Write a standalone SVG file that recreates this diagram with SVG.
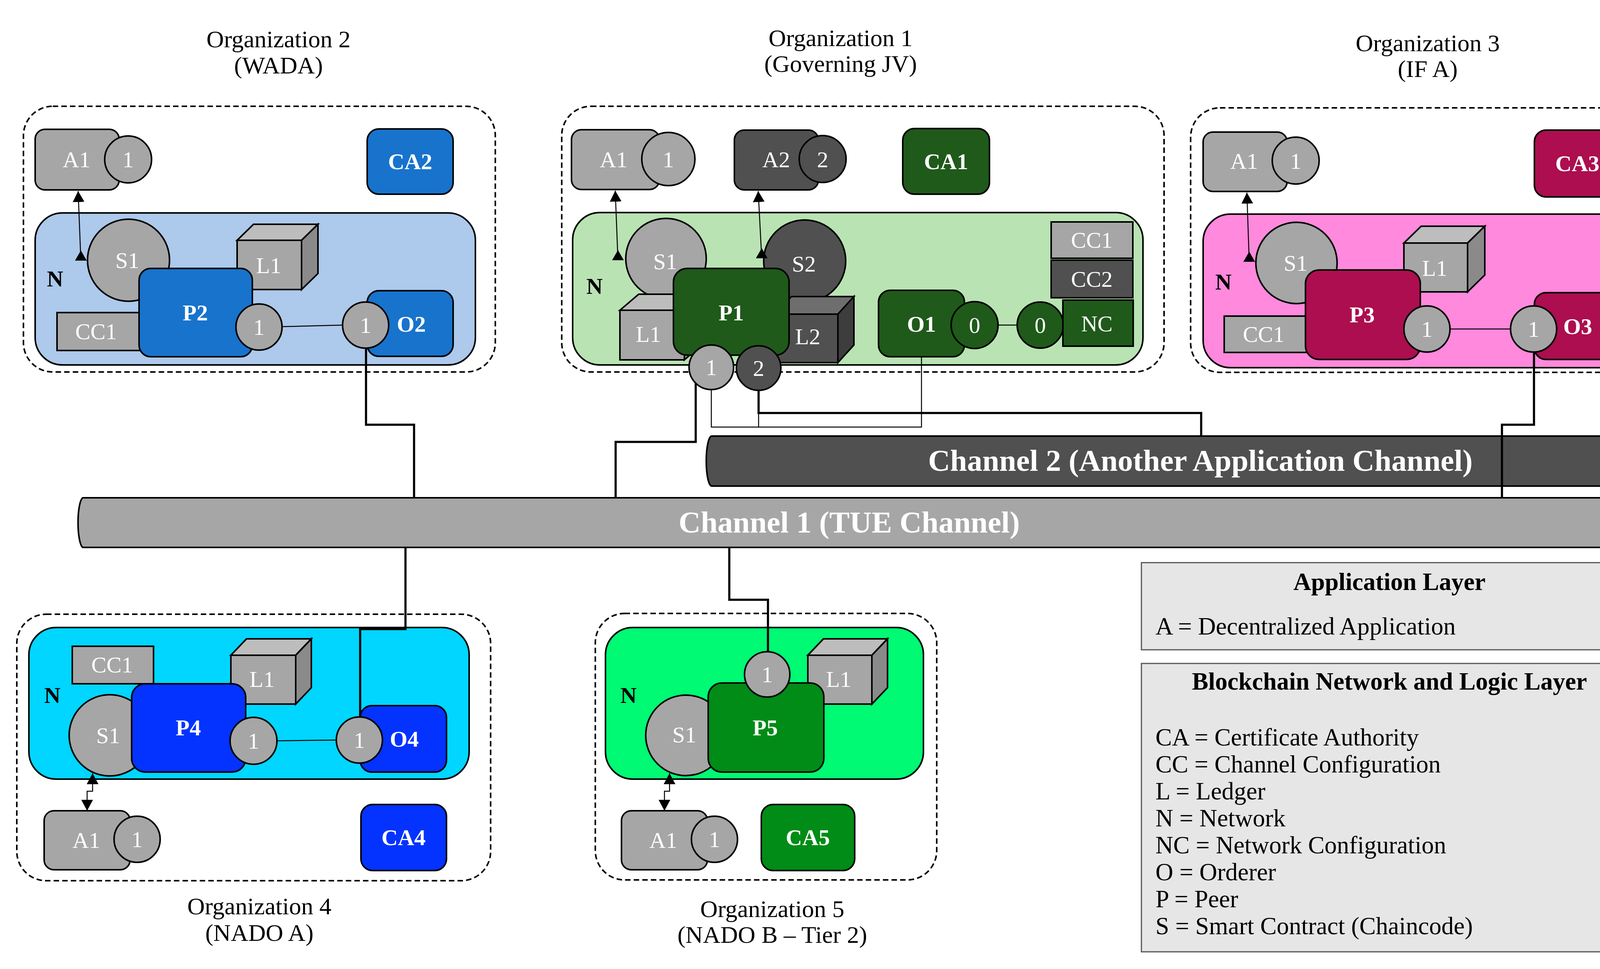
<svg xmlns="http://www.w3.org/2000/svg" width="4291" height="2480" viewBox="0 0 4291 2480">
<style>
.dash{fill:none;stroke:#000;stroke-width:4;stroke-dasharray:14 8}
.o{stroke:#000;stroke-width:4}
.lg{fill:#a6a6a6}
.dg{fill:#505050}
.lgt{fill:#bdbdbd}.lgs{fill:#8a8a8a}
.dgt{fill:#6e6e6e}.dgs{fill:#3d3d3d}
.t{font-family:"Liberation Serif","Times New Roman",serif;font-size:58px;fill:#fff;text-anchor:middle}
.b{font-weight:bold}
.k{fill:#000}
.title{font-family:"Liberation Serif","Times New Roman",serif;font-size:62px;fill:#000;text-anchor:middle}
.leg{font-family:"Liberation Serif","Times New Roman",serif;font-size:63px;fill:#000}
.ch{font-family:"Liberation Serif","Times New Roman",serif;font-size:78px;font-weight:bold;fill:#fff;text-anchor:middle}
.thick{fill:none;stroke:#000;stroke-width:5.5}
.thin{fill:none;stroke:#000;stroke-width:2.5}
.arr{fill:none;stroke:#000;stroke-width:2.5;marker-start:url(#ah);marker-end:url(#ah)}
.arru{fill:none;stroke:#000;stroke-width:2.5;marker-start:url(#ah);marker-end:url(#ahu)}
.c2{fill:#1873cc}.c1{fill:#1f5a1a}.c3{fill:#ac0e4f}.c4{fill:#0433ff}.c5{fill:#008c16}
</style>
<defs>
<marker id="ah" viewBox="0 0 10 10" refX="10" refY="5" markerUnits="userSpaceOnUse" markerWidth="28" markerHeight="30" preserveAspectRatio="none" orient="auto-start-reverse">
<path d="M0,0 L10,5 L0,10 z" fill="#000"/>
</marker>
<marker id="ahu" viewBox="0 0 10 10" refX="0" refY="5" markerUnits="userSpaceOnUse" markerWidth="26" markerHeight="30" preserveAspectRatio="none" orient="-90">
<path d="M0,0 L10,5 L0,10 z" fill="#000"/>
</marker>
</defs>
<rect width="4291" height="2480" fill="#fff"/>

<g id="titles">
<text class="title" x="713" y="121">Organization 2</text>
<text class="title" x="713" y="188">(WADA)</text>
<text class="title" x="2152" y="118">Organization 1</text>
<text class="title" x="2152" y="184">(Governing JV)</text>
<text class="title" x="3655" y="131">Organization 3</text>
<text class="title" x="3655" y="197">(IF A)</text>
<text class="title" x="664" y="2340">Organization 4</text>
<text class="title" x="664" y="2408">(NADO A)</text>
<text class="title" x="1977" y="2347">Organization 5</text>
<text class="title" x="1977" y="2413">(NADO B – Tier 2)</text>
</g>

<g id="channels">
<g id="channel2">
<path class="o dg" d="M4190 1116 L1822 1116 A14 64 0 0 0 1822 1244 L4190 1244 Z" stroke-width="5"/>
<ellipse class="o" cx="4190" cy="1180" rx="15" ry="64" fill="#a0a0a0"/>
<text class="ch" x="3073" y="1205">Channel 2 (Another Application Channel)</text>
</g>
<g id="channel1">
<path class="o lg" d="M4173 1274 L212 1274 A14 64 0 0 0 212 1401 L4173 1401 Z" stroke-width="5"/>
<ellipse class="o" cx="4173" cy="1337" rx="15" ry="64" fill="#c8c8c8"/>
<text class="ch" x="2174" y="1363">Channel 1 (TUE Channel)</text>
</g>
</g>

<g id="org2">
<rect class="dash" x="60" y="272" width="1208" height="680" rx="75"/>
<rect class="o lg" x="90" y="331" width="215" height="155" rx="25"/>
<circle class="o lg" cx="328" cy="408" r="60"/>
<text class="t" x="196" y="428">A1</text>
<text class="t" x="328" y="428">1</text>
<rect class="o c2" x="940" y="330" width="220" height="167" rx="30"/>
<text class="t b" x="1050" y="433">CA2</text>
<rect class="o" x="90" y="545" width="1127" height="389" rx="70" fill="#adc9eb"/>
<text class="t b k" x="141" y="733">N</text>
<circle class="o lg" cx="329" cy="666" r="105"/>
<text class="t" x="326" y="686">S1</text>
<rect class="o lg" x="607" y="615" width="165" height="126"/>
<polygon class="o lgt" points="607,615 649,574 814,574 772,615"/>
<polygon class="o lgs" points="772,615 814,574 814,700 772,741"/>
<text class="t" x="688" y="699">L1</text>
<rect class="o lg" x="146" y="800" width="215" height="97"/>
<text class="t" x="246" y="868">CC1</text>
<rect class="o c2" x="356" y="687" width="290" height="226" rx="30"/>
<text class="t b" x="500" y="820">P2</text>
<circle class="o lg" cx="663" cy="837" r="59"/>
<text class="t" x="663" y="857">1</text>
<rect class="o c2" x="940" y="744" width="220" height="168" rx="30"/>
<text class="t b" x="1053" y="849">O2</text>
<circle class="o lg" cx="936" cy="832" r="59"/>
<text class="t" x="936" y="852">1</text>
</g>

<g id="org1">
<rect class="dash" x="1438" y="272" width="1542" height="680" rx="75"/>
<rect class="o lg" x="1463" y="332" width="225" height="153" rx="25"/>
<circle class="o lg" cx="1711" cy="407" r="68"/>
<text class="t" x="1571" y="428">A1</text>
<text class="t" x="1711" y="428">1</text>
<rect class="o dg" x="1880" y="333" width="215" height="153" rx="25"/>
<circle class="o dg" cx="2106" cy="407" r="60"/>
<text class="t" x="1987" y="428">A2</text>
<text class="t" x="2106" y="428">2</text>
<rect class="o c1" x="2311" y="329" width="222" height="168" rx="30"/>
<text class="t b" x="2422" y="433">CA1</text>
<rect class="o" x="1466" y="544" width="1460" height="390" rx="70" fill="#b9e3b3"/>
<text class="t b k" x="1522" y="752">N</text>
<circle class="o lg" cx="1705" cy="662" r="103"/>
<text class="t" x="1703" y="689">S1</text>
<circle class="o dg" cx="2060" cy="668" r="105"/>
<text class="t" x="2058" y="695">S2</text>
<rect class="o lg" x="1587" y="794" width="165" height="127"/>
<polygon class="o lgt" points="1587,794 1635,753 1800,753 1752,794"/>
<polygon class="o lgs" points="1752,794 1800,753 1800,880 1752,921"/>
<text class="t" x="1660" y="875">L1</text>
<rect class="o dg" x="1985" y="804" width="160" height="124"/>
<polygon class="o dgt" points="1985,804 2026,759 2186,759 2145,804"/>
<polygon class="o dgs" points="2145,804 2186,759 2186,883 2145,928"/>
<text class="t" x="2068" y="881">L2</text>
<rect class="o c1" x="1724" y="687" width="296" height="222" rx="35"/>
<text class="t b" x="1872" y="820">P1</text>
<circle class="o lg" cx="1821" cy="940" r="57"/>
<text class="t" x="1821" y="960">1</text>
<circle class="o dg" cx="1942" cy="942" r="57"/>
<text class="t" x="1942" y="962">2</text>
<rect class="o c1" x="2249" y="743" width="220" height="170" rx="30"/>
<text class="t b" x="2359" y="849">O1</text>
<circle class="o c1" cx="2495" cy="832" r="60"/>
<text class="t" x="2495" y="852">0</text>
<circle class="o c1" cx="2663" cy="832" r="59"/>
<text class="t" x="2663" y="852">0</text>
<rect class="o c1" x="2721" y="768" width="180" height="118"/>
<text class="t" x="2808" y="848">NC</text>
<rect class="o lg" x="2691" y="568" width="209" height="93"/>
<text class="t" x="2795" y="634">CC1</text>
<rect class="o dg" x="2691" y="666" width="209" height="96"/>
<text class="t" x="2795" y="734">CC2</text>
</g>

<g id="org3">
<rect class="dash" x="3048" y="276" width="1213" height="677" rx="75"/>
<rect class="o lg" x="3080" y="338" width="215" height="152" rx="25"/>
<circle class="o lg" cx="3317" cy="411" r="60"/>
<text class="t" x="3185" y="432">A1</text>
<text class="t" x="3317" y="432">1</text>
<rect class="o c3" x="3928" y="333" width="221" height="171" rx="30"/>
<text class="t b" x="4038" y="438">CA3</text>
<rect class="o" x="3080" y="548" width="1126" height="393" rx="70" fill="#ff89dc"/>
<text class="t b k" x="3132" y="741">N</text>
<circle class="o lg" cx="3319" cy="673" r="104"/>
<text class="t" x="3317" y="693">S1</text>
<rect class="o lg" x="3594" y="622" width="163" height="125"/>
<polygon class="o lgt" points="3594,622 3638,579 3801,579 3757,622"/>
<polygon class="o lgs" points="3757,622 3801,579 3801,704 3757,747"/>
<text class="t" x="3673" y="706">L1</text>
<rect class="o lg" x="3134" y="809" width="210" height="93"/>
<text class="t" x="3235" y="875">CC1</text>
<rect class="o c3" x="3342" y="691" width="294" height="229" rx="35"/>
<text class="t b" x="3487" y="825">P3</text>
<circle class="o lg" cx="3653" cy="842" r="59"/>
<text class="t" x="3653" y="862">1</text>
<rect class="o c3" x="3928" y="749" width="221" height="171" rx="30"/>
<text class="t b" x="4039" y="855">O3</text>
<circle class="o lg" cx="3926" cy="842" r="59"/>
<text class="t" x="3926" y="862">1</text>
</g>

<g id="org4">
<rect class="dash" x="43" y="1572" width="1213" height="682" rx="75"/>
<rect class="o" x="74" y="1606" width="1127" height="388" rx="70" fill="#00d6ff"/>
<rect class="o lg" x="185" y="1654" width="208" height="96"/>
<text class="t" x="287" y="1721">CC1</text>
<text class="t b k" x="134" y="1799">N</text>
<rect class="o lg" x="591" y="1677" width="166" height="125"/>
<polygon class="o lgt" points="591,1677 631,1635 797,1635 757,1677"/>
<polygon class="o lgs" points="757,1677 797,1635 797,1760 757,1802"/>
<text class="t" x="671" y="1758">L1</text>
<circle class="o lg" cx="281" cy="1882" r="104"/>
<text class="t" x="277" y="1902">S1</text>
<rect class="o c4" x="337" y="1750" width="292" height="226" rx="35"/>
<text class="t b" x="482" y="1882">P4</text>
<circle class="o lg" cx="649" cy="1896" r="60"/>
<text class="t" x="649" y="1916">1</text>
<rect class="o c4" x="922" y="1806" width="221" height="170" rx="30"/>
<text class="t b" x="1035" y="1911">O4</text>
<circle class="o lg" cx="920" cy="1894" r="59"/>
<text class="t" x="920" y="1914">1</text>
<rect class="o lg" x="113" y="2075" width="220" height="151" rx="25"/>
<circle class="o lg" cx="351" cy="2148" r="59"/>
<text class="t" x="221" y="2170">A1</text>
<text class="t" x="351" y="2168">1</text>
<rect class="o c4" x="924" y="2059" width="219" height="169" rx="30"/>
<text class="t b" x="1033" y="2163">CA4</text>
</g>

<g id="org5">
<rect class="dash" x="1524" y="1570" width="874" height="682" rx="75"/>
<rect class="o" x="1550" y="1606" width="814" height="388" rx="70" fill="#00fa73"/>
<text class="t b k" x="1609" y="1799">N</text>
<rect class="o lg" x="2068" y="1677" width="164" height="125"/>
<polygon class="o lgt" points="2068,1677 2108,1635 2272,1635 2232,1677"/>
<polygon class="o lgs" points="2232,1677 2272,1635 2272,1760 2232,1802"/>
<text class="t" x="2147" y="1758">L1</text>
<circle class="o lg" cx="1756" cy="1882" r="103"/>
<text class="t" x="1752" y="1900">S1</text>
<rect class="o c5" x="1813" y="1748" width="296" height="228" rx="35"/>
<text class="t b" x="1959" y="1882">P5</text>
<circle class="o lg" cx="1964" cy="1726" r="58"/>
<text class="t" x="1964" y="1746">1</text>
<rect class="o lg" x="1591" y="2075" width="220" height="151" rx="25"/>
<circle class="o lg" cx="1829" cy="2148" r="59"/>
<text class="t" x="1698" y="2170">A1</text>
<text class="t" x="1829" y="2168">1</text>
<rect class="o c5" x="1949" y="2059" width="239" height="169" rx="30"/>
<text class="t b" x="2068" y="2163">CA5</text>
</g>

<g id="connectors">
<path class="thick" d="M937 891 L937 1087 L1060 1087 L1060 1274"/>
<path class="thick" d="M1781 981 L1781 1131 L1576 1131 L1576 1274"/>
<path class="thick" d="M1942 999 L1942 1057 L3075 1057 L3075 1116"/>
<path class="thick" d="M3927 901 L3927 1087 L3845 1087 L3845 1274"/>
<path class="thick" d="M1038 1401 L1038 1610 L922 1610 L922 1835"/>
<path class="thick" d="M1867 1401 L1867 1535 L1966 1535 L1966 1668"/>
<path class="thin" d="M2359 913 L2359 1093 L1821 1093 L1821 997"/>
<path class="thin" d="M1942 1057 L1942 1093"/>
<path class="thin" d="M722 836 L877 832"/>
<path class="thin" d="M3712 842 L3867 842"/>
<path class="thin" d="M709 1896 L861 1894"/>
<path class="thin" d="M2555 832 L2604 832"/>
<path class="arru" d="M200 489 L207 667"/>
<path class="arru" d="M1575 488 L1582 666"/>
<path class="arru" d="M1941 489 L1950 661"/>
<path class="arru" d="M3192 493 L3198 670"/>
<path class="arr" d="M237 1979 L237 2025 L223 2025 L223 2075"/>
<path class="arr" d="M1714 1979 L1714 2025 L1701 2025 L1701 2075"/>
</g>

<g id="legend">
<rect x="2922" y="1440" width="1266" height="223" fill="#e6e6e6" stroke="#555" stroke-width="3"/>
<text class="leg" x="3557" y="1510" text-anchor="middle" font-weight="bold" font-size="62">Application Layer</text>
<text class="leg" x="2958" y="1624">A = Decentralized Application</text>
<rect x="2922" y="1698" width="1266" height="738" fill="#e6e6e6" stroke="#555" stroke-width="3"/>
<text class="leg" x="3557" y="1765" text-anchor="middle" font-weight="bold" font-size="61">Blockchain Network and Logic Layer</text>
<text class="leg" x="2958" y="1908">CA = Certificate Authority</text>
<text class="leg" x="2958" y="1977">CC = Channel Configuration</text>
<text class="leg" x="2958" y="2046">L = Ledger</text>
<text class="leg" x="2958" y="2115">N = Network</text>
<text class="leg" x="2958" y="2184">NC = Network Configuration</text>
<text class="leg" x="2958" y="2253">O = Orderer</text>
<text class="leg" x="2958" y="2322">P = Peer</text>
<text class="leg" x="2958" y="2391">S = Smart Contract (Chaincode)</text>
</g>
</svg>
